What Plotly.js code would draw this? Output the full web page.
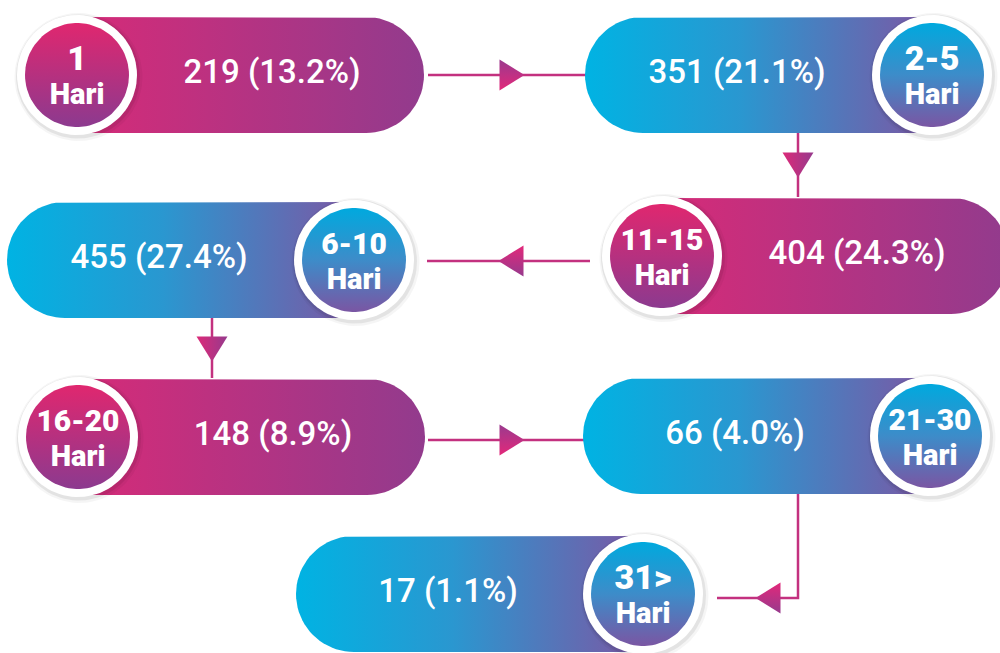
<!DOCTYPE html>
<html>
<head>
<meta charset="utf-8">
<script src="https://cdn.plot.ly/plotly-3.0.1.min.js"></script>
<style>
  html, body { margin: 0; padding: 0; background: #fff; }
  #chart { width: 1000px; height: 653px; }
</style>
</head>
<body>
<div id="chart"></div>
<script>
// Data: lama hari vs jumlah (persen)
const dayRanges = ['1', '2-5', '6-10', '11-15', '16-20', '21-30', '31>'];
const caseCounts = [219, 351, 455, 404, 148, 66, 17];
const casePercents = [13.2, 21.1, 27.4, 24.3, 8.9, 4.0, 1.1];
const unitLabel = 'Hari';

// Which colour family each badge uses
const pinkRanges = ['1', '11-15', '16-20'];

// Badge centres on the canvas (pixel-like units, y grows downward)
const badgeCenter = {
    '1': [77, 75],
    '2-5': [932, 75],
    '11-15': [662, 256],
    '6-10': [354, 260],
    '16-20': [78, 437],
    '21-30': [930, 436],
    '31>': [643, 594]
};

// Connectors between the pills: polyline + arrow head [x, y, direction]
const links = [
    { path: [[428, 75], [589, 75]], arrow: [512, 75, 'right'] },
    { path: [[798, 132], [798, 197]], arrow: [798, 165, 'down'] },
    { path: [[590, 261], [427, 261]], arrow: [511, 261, 'left'] },
    { path: [[212, 318], [212, 378]], arrow: [212, 349, 'down'] },
    { path: [[428, 440], [589, 440]], arrow: [512, 440, 'right'] },
    { path: [[798, 494], [798, 598], [717, 598]], arrow: [768, 598, 'left'] }
];

const PILL_LEN = 347, PILL_HALF = 58;
const R_SHADOW = 63, R_WHITE = 60, R_INNER = 52;
const TEXT_OFFSET = 195;

// note: 'vertical' gradients run from the bottom of the screen (0) to the top (1) here
const pinkPill = [[0, '#D62B78'], [1, '#923B8D']];
const bluePill = [[0, '#00B3E3'], [0.45, '#2A97D0'], [1, '#7C57A4']];
const pinkDisc = [[0, '#8C3A8F'], [1, '#E0276F']];
const blueDisc = [[0, '#7A56A3'], [0.5, '#3D8CC9'], [1, '#00A9DE']];
const linkColor = '#C3317F';

function circlePts(cx, cy, r) {
    let xs = [], ys = [];
    for (let i = 0; i <= 90; i++) {
        let t = 2 * Math.PI * i / 90;
        xs.push(cx + r * Math.cos(t));
        ys.push(cy + r * Math.sin(t));
    }
    return [xs, ys];
}

function pillPts(cx, cy, dir) {
    // dir = 1 : pill runs to the right of the badge, -1 : to the left
    let xs = [cx], ys = [cy - PILL_HALF];
    let ex = cx + dir * (PILL_LEN - PILL_HALF);
    for (let i = 0; i <= 40; i++) {
        let t = -Math.PI / 2 + Math.PI * i / 40;
        xs.push(ex + dir * PILL_HALF * Math.cos(t));
        ys.push(cy + PILL_HALF * Math.sin(t));
    }
    xs.push(cx); ys.push(cy + PILL_HALF);
    xs.push(cx); ys.push(cy - PILL_HALF);
    return [xs, ys];
}

function arrowPts(x, y, dir) {
    let l = 12.5, w = 15.5;
    if (dir == 'right') return [[x - l, x + l, x - l, x - l], [y - w, y, y + w, y - w]];
    if (dir == 'left') return [[x + l, x - l, x + l, x + l], [y - w, y, y + w, y - w]];
    return [[x - w, x + w, x, x - w], [y - l, y - l, y + l, y - l]];
}

function polyTrace(pts, extra) {
    return Object.assign({
        x: pts[0], y: pts[1], type: 'scatter', mode: 'lines',
        fill: 'toself', line: { width: 0 }, hoverinfo: 'skip'
    }, extra);
}

let traces = [];

// connectors first so pills sit on top
links.forEach(function (lk) {
    traces.push({
        x: lk.path.map(p => p[0]), y: lk.path.map(p => p[1]),
        type: 'scatter', mode: 'lines', hoverinfo: 'skip',
        line: { color: linkColor, width: 2.5 }
    });
    let a = lk.arrow;
    let grad;
    if (a[2] == 'right') grad = { type: 'vertical', colorscale: [[0, '#E3287A'], [1, '#9A3A8E']] };
    else if (a[2] == 'left') grad = { type: 'vertical', colorscale: [[0, '#963A8D'], [1, '#E3287A']] };
    else grad = { type: 'horizontal', colorscale: [[0, '#DC2A78'], [1, '#963A8D']] };
    traces.push(polyTrace(arrowPts(a[0], a[1], a[2]), { fillgradient: grad }));
});

// pills
dayRanges.forEach(function (d) {
    let c = badgeCenter[d];
    let pink = pinkRanges.includes(d);
    traces.push(polyTrace(pillPts(c[0], c[1], pink ? 1 : -1), {
        fillgradient: { type: 'horizontal', colorscale: pink ? pinkPill : bluePill }
    }));
});

// badges
dayRanges.forEach(function (d) {
    let c = badgeCenter[d];
    let pink = pinkRanges.includes(d);
    traces.push(polyTrace(circlePts(c[0] + 1.5, c[1] + 2, R_SHADOW + 1), { fillcolor: 'rgba(0,0,0,0.04)' }));
    traces.push(polyTrace(circlePts(c[0] + 1, c[1] + 1.5, R_SHADOW - 1), { fillcolor: 'rgba(0,0,0,0.07)' }));
    traces.push(polyTrace(circlePts(c[0], c[1], R_WHITE), { fillcolor: '#ffffff' }));
    traces.push(polyTrace(circlePts(c[0], c[1], R_INNER), {
        fillgradient: { type: 'vertical', colorscale: pink ? pinkDisc : blueDisc }
    }));
});

// value labels inside the pills
traces.push({
    type: 'scatter', mode: 'text', hoverinfo: 'skip',
    x: dayRanges.map(d => badgeCenter[d][0] + (pinkRanges.includes(d) ? TEXT_OFFSET : -TEXT_OFFSET)),
    y: dayRanges.map(d => badgeCenter[d][1]),
    text: caseCounts.map((n, i) => n + ' (' + casePercents[i].toFixed(1) + '%)'),
    textposition: 'middle center',
    textfont: { family: 'Roboto, sans-serif', size: 33, color: '#ffffff', weight: 500 }
});

// badge labels: range on top, "Hari" below (long ranges get a smaller size to fit the disc)
traces.push({
    type: 'scatter', mode: 'text', hoverinfo: 'skip',
    x: dayRanges.map(d => badgeCenter[d][0]),
    y: dayRanges.map(d => badgeCenter[d][1] - 14),
    text: dayRanges,
    textposition: 'middle center',
    textfont: {
        family: 'Roboto, sans-serif', color: '#ffffff', weight: 900,
        size: dayRanges.map(d => d.length > 3 ? 30 : 34)
    }
});
traces.push({
    type: 'scatter', mode: 'text', hoverinfo: 'skip',
    x: dayRanges.map(d => badgeCenter[d][0]),
    y: dayRanges.map(d => badgeCenter[d][1] + 22),
    text: dayRanges.map(() => unitLabel),
    textposition: 'middle center',
    textfont: { family: 'Roboto, sans-serif', size: 29, color: '#ffffff', weight: 900 }
});

let layout = {
    width: 1000,
    height: 653,
    margin: { l: 0, r: 0, t: 0, b: 0 },
    paper_bgcolor: '#ffffff',
    plot_bgcolor: '#ffffff',
    showlegend: false,
    hovermode: false,
    xaxis: { range: [0, 1000], visible: false, fixedrange: true },
    yaxis: { range: [653, 0], visible: false, fixedrange: true }
};

Plotly.newPlot('chart', traces, layout, { displayModeBar: false, staticPlot: true });
</script>
</body>
</html>
